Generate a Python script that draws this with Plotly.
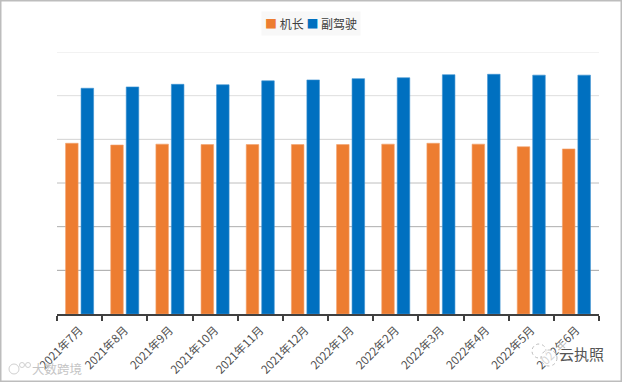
import plotly.graph_objects as go

months = ["2021年7月", "2021年8月", "2021年9月", "2021年10月", "2021年11月", "2021年12月",
          "2022年1月", "2022年2月", "2022年3月", "2022年4月", "2022年5月", "2022年6月"]
captain = [39.1, 38.7, 38.9, 38.8, 38.8, 38.8, 38.8, 38.9, 39.1, 38.9, 38.3, 37.8]
first_officer = [51.7, 52.0, 52.6, 52.5, 53.4, 53.6, 53.9, 54.1, 54.8, 54.9, 54.7, 54.7]
series_names = ["机长", "副驾驶"]
series_colors = ["#ED7D31", "#0070C0"]
series_edges = ["#F2A36E", "#3C92D2"]
grid_values = [10, 20, 30, 40, 50, 60]
grid_colors = ["#A4A4A4", "#AEAEAE", "#BEBEBE", "#D2D2D2", "#DEDEDE", "#E6E6E6"]

FONT = "Noto Sans CJK SC"
W, H = 622, 382
L, R, T, B = 57, 23, 52, 68
PW, PH = W - L - R, H - T - B


def px(x):
    return (x - L) / PW


def py(y):
    return (H - B - y) / PH


def circle(cx, cy, r, color, fill="rgba(255,255,255,0.75)", dash="solid"):
    return dict(type="circle", xref="paper", yref="paper",
                x0=px(cx - r), x1=px(cx + r), y0=py(cy + r), y1=py(cy - r),
                line=dict(color=color, width=1, dash=dash), fillcolor=fill, layer="above")


fig = go.Figure()
fig.add_bar(name=series_names[0], x=months, y=captain,
            marker=dict(color=series_colors[0], line=dict(color=series_edges[0], width=0.6)))
fig.add_bar(name=series_names[1], x=months, y=first_officer,
            marker=dict(color=series_colors[1], line=dict(color=series_edges[1], width=0.6)))

legend_text = (f'<span style="color:{series_colors[0]}">■</span> {series_names[0]} '
               f'<span style="color:{series_colors[1]}">■</span> {series_names[1]}')

grid_shapes = [
    dict(type="line", xref="paper", yref="y", x0=0, x1=1, y0=v, y1=v,
         line=dict(color=c, width=1), layer="below")
    for v, c in zip(grid_values, grid_colors)
]

fig.update_layout(
    width=W, height=H,
    margin=dict(l=L, r=R, t=T, b=B, autoexpand=False),
    paper_bgcolor="white", plot_bgcolor="white",
    barmode="group", bargap=0.314, bargroupgap=0.19,
    font=dict(family=FONT, color="#444444", size=12),
    showlegend=False,
    xaxis=dict(type="category", tickson="boundaries", ticks="outside", ticklen=5, tickwidth=2,
               tickcolor="#404040", showline=True, linecolor="#404040", linewidth=2,
               tickangle=-45, tickfont=dict(size=11.5, color="#505050"), showgrid=False,
               ticklabelstandoff=3, automargin=False),
    yaxis=dict(range=[0, 60], showticklabels=False, ticks="", showline=False, showgrid=False,
               zeroline=False, automargin=False),
    shapes=grid_shapes + [
        dict(type="rect", xref="paper", yref="paper", x0=px(0.5), x1=px(W - 0.5),
             y0=py(H - 0.5), y1=py(0.5), line=dict(color="#BDBDBD", width=2),
             fillcolor="rgba(0,0,0,0)", layer="above"),
        circle(14, 369, 5, "#D0D0D0"),
        circle(22, 365, 2.5, "#D0D0D0"),
        circle(28, 365, 2.5, "#D0D0D0"),
        circle(539, 351, 7, "#BBBBBB", dash="dot"),
        circle(549, 358, 8, "#BBBBBB", dash="dot"),
    ],
    annotations=[
        dict(text=legend_text, xref="paper", yref="paper", x=px(311), y=py(23.5),
             xanchor="center", yanchor="middle", showarrow=False,
             bgcolor="#F8F8F8", borderpad=3, font=dict(size=12, color="#404040")),
        dict(text="大数跨境", xref="paper", yref="paper", x=px(57), y=py(368),
             xanchor="center", yanchor="middle", showarrow=False,
             font=dict(size=12.5, color="#C4C4C4")),
        dict(text="云执照", xref="paper", yref="paper", x=px(581), y=py(353),
             xanchor="center", yanchor="middle", showarrow=False,
             font=dict(size=15, color="#555555"), bgcolor="rgba(255,255,255,0.6)", borderpad=0),
    ],
)
fig.write_html("out.html", post_script="document.body.style.margin='0';",
               config={"displayModeBar": False})
